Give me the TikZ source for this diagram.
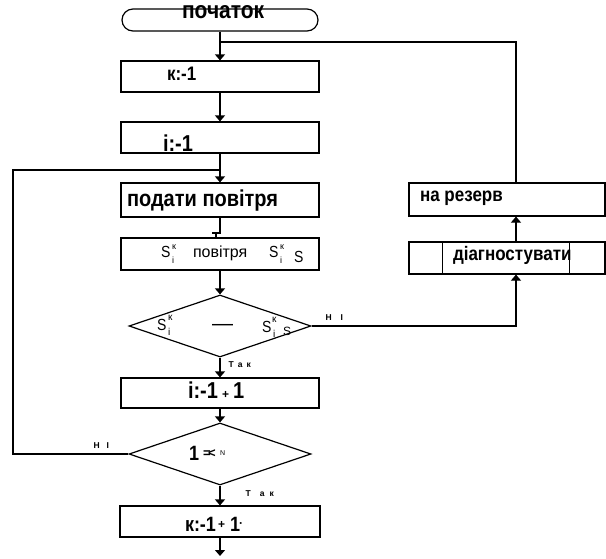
\documentclass[tikz,border=0pt]{standalone}
\usepackage{fontspec}
\usepackage{graphicx}
\setmainfont{Liberation Sans}
\usetikzlibrary{arrows.meta,shapes.geometric,calc}
\newcommand\Pc[3]{\rlap{\hspace*{#1}\raisebox{#2}[0pt][0pt]{#3}}}
\newcommand\FS[1]{\fontsize{#1}{#1}\selectfont}
\newcommand\Tall[1]{\scalebox{1}[1.15]{#1}}
\begin{document}
\begin{tikzpicture}[x=1pt,y=-1pt, line width=1.2pt,
 box/.style={draw, rectangle, inner sep=0pt, minimum width=198pt, minimum height=31pt},
 dec/.style={draw, diamond, inner sep=0pt, minimum width=182pt, minimum height=62pt},
 arr/.style={-{Triangle[width=10pt,length=6pt]}},
 lbl/.style={inner sep=0pt, anchor=base west, font=\FS{8.5}\bfseries},
 tickmark/.style={line width=2.6pt}]
\useasboundingbox (0,0) rectangle (606,558);

% main column
\node[draw, rounded corners=11pt, minimum width=196pt, minimum height=22pt, inner sep=0pt] (start) at (220,20)
  {\Pc{-38pt}{2pt}{\Tall{\FS{21}\bfseries початок}}};
\node[box] (b1) at (220,76.5) {\Pc{-53pt}{-3.5pt}{\Tall{\FS{17}\bfseries к:-1}}};
\node[box] (b2) at (220,137.5) {\Pc{-57pt}{-13.5pt}{\Tall{\FS{20}\bfseries і:-1}}};
\node[box, minimum height=34pt] (b3) at (220,200) {\Pc{-93pt}{-6.5pt}{\Tall{\FS{20}\bfseries подати повітря}}};
\node[box, minimum height=32pt] (b4) at (220,254) {%
  \Pc{-59pt}{-3pt}{\Tall{\FS{14}S}}%
  \Pc{-48pt}{5pt}{\FS{9}к}%
  \Pc{-48pt}{-9pt}{\FS{9}і}%
  \Pc{-27pt}{-3pt}{\FS{16}повітря}%
  \Pc{49pt}{-3pt}{\Tall{\FS{14}S}}%
  \Pc{60pt}{5pt}{\FS{9}к}%
  \Pc{60pt}{-9pt}{\FS{9}і}%
  \Pc{74pt}{-8pt}{\Tall{\FS{14}S}}};
\node[dec] (d1) at (220,326) {%
  \Pc{-63pt}{-4pt}{\Tall{\FS{14}S}}%
  \Pc{-52pt}{6pt}{\FS{10}к}%
  \Pc{-52pt}{-9pt}{\FS{10}і}%
  \Pc{-8pt}{-4pt}{\FS{21}—}%
  \Pc{42pt}{-6pt}{\Tall{\FS{14}S}}%
  \Pc{52pt}{4pt}{\FS{10}к}%
  \Pc{53pt}{-11pt}{\FS{10}і}%
  \Pc{63pt}{-9pt}{\FS{12}S}};
\node[box, minimum height=30pt] (b5) at (220,393) {%
  \Pc{-32pt}{-5pt}{\Tall{\FS{20}\bfseries і:-1}}%
  \Pc{2pt}{-5pt}{\FS{12}\bfseries +}%
  \Pc{13pt}{-5pt}{\Tall{\FS{20}\bfseries 1}}};
\node[dec] (d2) at (220,454) {%
  \Pc{-31pt}{-6pt}{\Tall{\FS{18}\bfseries 1}}%
  \Pc{-17pt}{-3pt}{\FS{13}\bfseries =\kern-2.5pt<}%
  \Pc{0pt}{-1pt}{\FS{7}N}};
\node[box, minimum width=200pt] (b6) at (220,521.5) {%
  \Pc{-35pt}{-9.5pt}{\Tall{\FS{18}\bfseries к:-1}}%
  \Pc{-2pt}{-7pt}{\FS{12}\bfseries +}%
  \Pc{10pt}{-9.5pt}{\Tall{\FS{18}\bfseries 1}}%
  \Pc{19pt}{-6pt}{\FS{12}\bfseries ·}};

% right column
\node[box, minimum width=196pt, minimum height=33pt] (res) at (507,199.5) {\Pc{-87pt}{-2pt}{\Tall{\FS{17}\bfseries на резерв}}};
\node[box, minimum width=196pt, minimum height=32pt] (diag) at (507,258) {\Pc{-54pt}{-2pt}{\Tall{\FS{17}\bfseries діагностувати}}};
\draw ([xshift=34pt]diag.north west) -- ([xshift=34pt]diag.south west);
\draw ([xshift=161pt]diag.north west) -- ([xshift=161pt]diag.south west);

% labels
\node[lbl] (no1) at (325,320) {Н\hspace{9pt}І};
\node[lbl] (tak1) at (228,367) {Т\hspace{4pt}а\hspace{4pt}к};
\node[lbl] (no2) at (93,448) {Н\hspace{7pt}І};
\node[lbl] (tak2) at (245,496) {Т\hspace{9pt}а\hspace{5pt}к};

% junctions
\coordinate (j1) at (220,42);
\coordinate (j2) at (220,170);
\coordinate (rt) at (516,42);
\coordinate (dr) at (516,326);
\coordinate (lb) at (13,454);
\coordinate (lt) at (13,170);
\coordinate (end) at (220,556);
\coordinate (t1) at (220,233);
\coordinate (t2) at (212,233);
\coordinate (t3) at (216,233);

% connectors
\draw[arr] (start) -- (b1);
\draw[arr] (b1) -- (b2);
\draw[arr] (b2) -- (b3);
\draw (b3.south) -- (t1) -- (t2);
\draw (t3) -- (t3 |- b4.north);
\draw[arr] (b4) -- (d1);
\draw[arr] (d1) -- (b5);
\draw[arr] (b5) -- (d2);
\draw[arr] (d2) -- (b6);
\draw[arr] (b6) -- (end);
\draw[arr] (d1.east) -- (dr) -- (diag.south -| dr);
\draw[arr] (diag.north -| dr) -- (res.south -| dr);
\draw (res.north -| dr) -- (rt) -- (j1);
\draw[tickmark] ($(j1)+(7,0)$) -- ($(j1)+(18,0)$);
\draw (d2.west) -- (lb) -- (lt) -- (j2);
\draw[tickmark] ($(j2)+(-22,0)$) -- ($(j2)+(-11,0)$);
\end{tikzpicture}
\end{document}
